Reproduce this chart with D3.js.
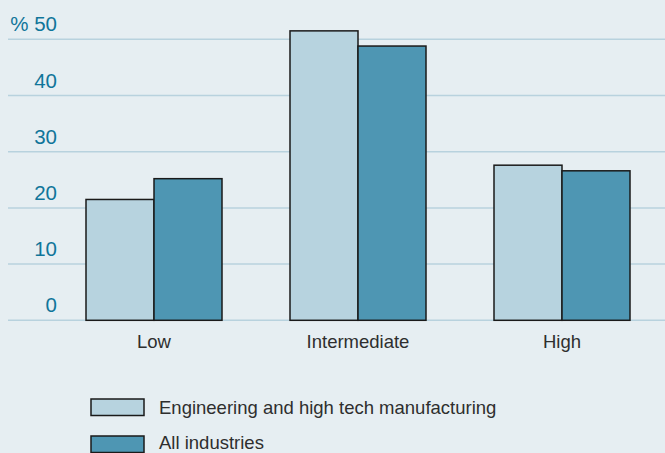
<!DOCTYPE html>
<html>
<head>
<meta charset="utf-8">
<script src="https://cdn.jsdelivr.net/npm/d3@7"></script>
<style>
  html, body { margin: 0; padding: 0; background: #e6eef2; }
  svg { display: block; font-family: "Liberation Sans", Arial, sans-serif; }
</style>
</head>
<body>
<svg id="chart" width="665" height="453"></svg>
<script>
// Share of employees by skill level, in percent
const categories = ["Low", "Intermediate", "High"];
const seriesNames = ["Engineering and high tech manufacturing", "All industries"];
const engineering = [21.5, 51.5, 27.6];
const allIndustries = [25.2, 48.8, 26.6];
const yTicks = [0, 10, 20, 30, 40, 50];

const colors = ["#b7d3df", "#4e96b3"];
const svg = d3.select("#chart");
const W = 665;
const left = 8, plotLeft = 52, plotRight = 664;
const y0 = 320.3, yTop = 39.3;

const x = d3.scaleBand().domain(categories).range([plotLeft, plotRight]).paddingInner(1/3).paddingOuter(1/6);
const xs = d3.scaleBand().domain(seriesNames).range([0, x.bandwidth()]);
const y = d3.scaleLinear().domain([0, 50]).range([y0, yTop]);

// gridlines
svg.append("g").selectAll("line").data(yTicks).join("line")
  .attr("x1", left).attr("x2", W)
  .attr("y1", d => y(d)).attr("y2", d => y(d))
  .attr("stroke", "#b8d2de").attr("stroke-width", 1.5);

// y tick labels
svg.append("g").selectAll("text").data(yTicks).join("text")
  .attr("x", 57).attr("y", d => y(d) - 8)
  .attr("text-anchor", "end")
  .attr("fill", "#10759a").attr("font-size", 20.5)
  .text(d => d === 50 ? "% 50" : d);

// bars
const data = categories.map((c, i) => ({ cat: c, vals: [engineering[i], allIndustries[i]] }));
const groups = svg.append("g").selectAll("g").data(data).join("g")
  .attr("transform", d => `translate(${x(d.cat)},0)`);
groups.selectAll("rect").data(d => d.vals.map((v, j) => ({ v, s: seriesNames[j], j }))).join("rect")
  .attr("x", d => xs(d.s)).attr("width", xs.bandwidth())
  .attr("y", d => y(d.v)).attr("height", d => y0 - y(d.v))
  .attr("fill", d => colors[d.j])
  .attr("stroke", "#1a1a1a").attr("stroke-width", 1.5);

// category labels
svg.append("g").selectAll("text").data(categories).join("text")
  .attr("x", d => x(d) + x.bandwidth() / 2).attr("y", 348)
  .attr("text-anchor", "middle")
  .attr("fill", "#2e2e2e").attr("font-size", 18.5)
  .text(d => d);

// legend
const legend = svg.append("g").selectAll("g").data(seriesNames).join("g")
  .attr("transform", (d, i) => `translate(91,${399 + i * 37})`);
legend.append("rect").attr("width", 53).attr("height", 16.5)
  .attr("fill", (d, i) => colors[i]).attr("stroke", "#1a1a1a").attr("stroke-width", 1.5);
legend.append("text").attr("x", 68).attr("y", (d, i) => i === 0 ? 15 : 13)
  .attr("fill", "#2e2e2e").attr("font-size", 18.5)
  .text(d => d);
</script>
</body>
</html>
